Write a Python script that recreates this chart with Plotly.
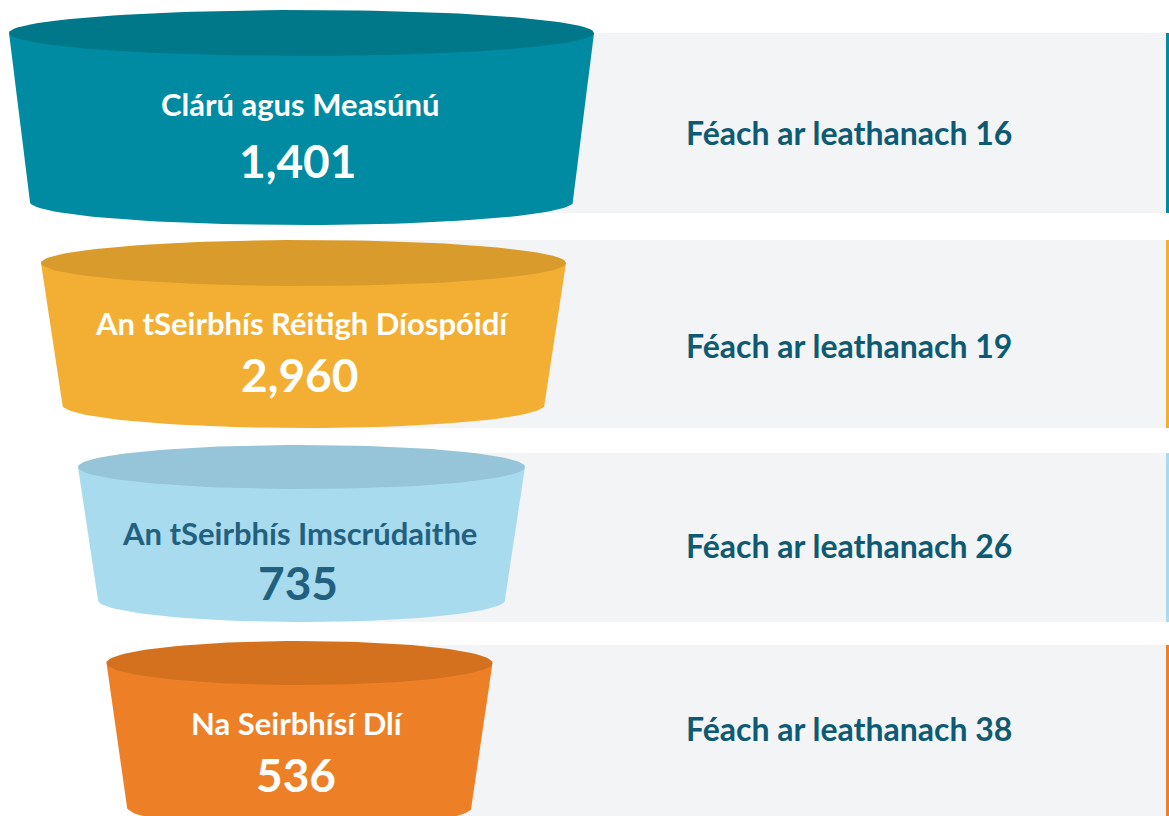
import numpy as np
import plotly.graph_objects as go

# data
services = ["Clárú agus Measúnú", "An tSeirbhís Réitigh Díospóidí",
            "An tSeirbhís Imscrúdaithe", "Na Seirbhísí Dlí"]
counts = [1401, 2960, 735, 536]
pages = [16, 19, 26, 38]

# styles / layout (pixels, y downwards)
body_colors = ["#008ba3", "#f3af33", "#a9dbee", "#ed7f27"]
top_colors = ["#00788a", "#d99b2c", "#96c4d8", "#d4711f"]
text_colors = ["#ffffff", "#ffffff", "#22607f", "#ffffff"]
cup_cx = [301.5, 303.5, 301.5, 299.5]
cup_top_y = [33, 263, 467, 663]
cup_top_rx = [292.5, 262.5, 223.5, 193]
cup_bot_y = [202, 405, 600, 807]
cup_bot_rx = [271.5, 241, 203.5, 172.5]
cup_ry = [23, 23, 22, 22]
label_y = [104, 323, 533, 723]
number_y = [160, 374, 582, 774]
panel_y = [(33, 213), (240, 428), (453, 622), (645, 830)]
page_y = [132, 345, 545, 728]

W, H = 1169, 816
fig = go.Figure()

t_half = np.linspace(0, np.pi, 60)
t_full = np.linspace(0, 2 * np.pi, 120)

for i, name in enumerate(services):
    y0, y1 = panel_y[i]
    fig.add_shape(type="rect", x0=300, x1=1166, y0=y0, y1=y1,
                  fillcolor="#f3f4f6", line_width=0, layer="below")
    fig.add_shape(type="rect", x0=1166, x1=1169, y0=y0, y1=y1,
                  fillcolor=body_colors[i], line_width=0, layer="below")

    cx, ry = cup_cx[i], cup_ry[i]
    # cup body: sides plus rounded bottom
    bx = cx + cup_bot_rx[i] * np.cos(t_half)
    by = cup_bot_y[i] + ry * np.sin(t_half)
    xs = [cx + cup_top_rx[i]] + list(bx) + [cx - cup_top_rx[i], cx + cup_top_rx[i]]
    ys = [cup_top_y[i]] + list(by) + [cup_top_y[i], cup_top_y[i]]
    fig.add_trace(go.Scatter(x=xs, y=ys, fill="toself", mode="lines",
                             fillcolor=body_colors[i], line=dict(width=0),
                             hoverinfo="skip", showlegend=False))
    # top ellipse
    fig.add_trace(go.Scatter(x=cx + cup_top_rx[i] * np.cos(t_full),
                             y=cup_top_y[i] + ry * np.sin(t_full),
                             fill="toself", mode="lines",
                             fillcolor=top_colors[i], line=dict(width=0),
                             hoverinfo="skip", showlegend=False))

    fig.add_annotation(x=cx - 2, y=label_y[i], text=f"<b>{name}</b>", showarrow=False,
                       font=dict(family="Lato", size=31, color=text_colors[i]))
    fig.add_annotation(x=cx - 4, y=number_y[i], text=f"<b>{counts[i]:,}</b>", showarrow=False,
                       font=dict(family="Lato", size=46, color=text_colors[i]))
    fig.add_annotation(x=849, y=page_y[i], text=f"<b>Féach ar leathanach {pages[i]}</b>",
                       showarrow=False,
                       font=dict(family="Lato", size=32, color="#0d5a72"))

fig.update_xaxes(range=[0, W], visible=False, fixedrange=True)
fig.update_yaxes(range=[H, 0], visible=False, fixedrange=True)
fig.update_layout(width=W, height=H, margin=dict(l=0, r=0, t=0, b=0),
                  plot_bgcolor="white", paper_bgcolor="white")
fig.write_html("out.html", config={"displayModeBar": False},
               post_script="document.body.style.margin='0';document.body.style.overflow='hidden';")
